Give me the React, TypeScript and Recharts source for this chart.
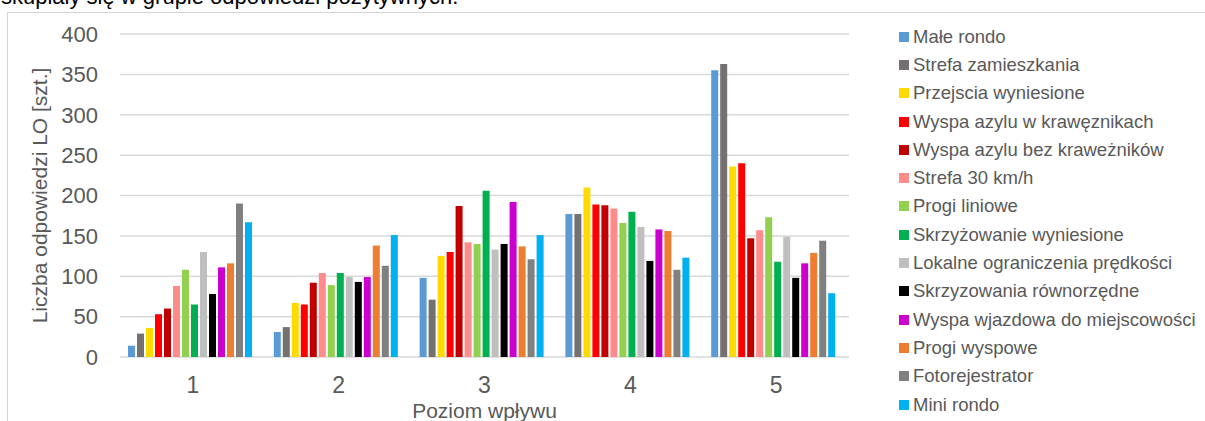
import React from 'react';
import { BarChart, Bar, XAxis, YAxis, CartesianGrid } from 'recharts';

const categories = ['1', '2', '3', '4', '5'];

const seriesNames = [
  'Małe rondo',
  'Strefa zamieszkania',
  'Przejscia wyniesione',
  'Wyspa azylu w krawęznikach',
  'Wyspa azylu bez kraweżników',
  'Strefa 30 km/h',
  'Progi liniowe',
  'Skrzyżowanie wyniesione',
  'Lokalne ograniczenia prędkości',
  'Skrzyzowania równorzędne',
  'Wyspa wjazdowa do miejscowości',
  'Progi wyspowe',
  'Fotorejestrator',
  'Mini rondo',
];

const seriesColors = [
  '#5B9BD5',
  '#767171',
  '#FFDA00',
  '#FF0000',
  '#C00000',
  '#FF8B8B',
  '#92D050',
  '#00B050',
  '#BFBFBF',
  '#000000',
  '#CC00CC',
  '#ED7D31',
  '#808080',
  '#00B0F0',
];

const maleRondo = [14, 31, 98, 177, 355];
const strefaZamieszkania = [29, 37, 71, 177, 363];
const przejsciaWyniesione = [36, 67, 125, 210, 236];
const wyspaWKrawez = [53, 65, 130, 189, 240];
const wyspaBezKrawez = [60, 92, 187, 188, 147];
const strefa30 = [88, 104, 142, 184, 157];
const progiLiniowe = [108, 89, 140, 166, 173];
const skrzyzowanieWyniesione = [65, 104, 206, 180, 118];
const lokalneOgraniczenia = [130, 99, 133, 161, 149];
const skrzyzowaniaRownorzedne = [78, 93, 140, 119, 98];
const wyspaWjazdowa = [111, 99, 192, 158, 116];
const progiWyspowe = [116, 138, 137, 156, 129];
const fotorejestrator = [190, 113, 121, 108, 144];
const miniRondo = [167, 151, 151, 123, 79];

const seriesValues = [
  maleRondo,
  strefaZamieszkania,
  przejsciaWyniesione,
  wyspaWKrawez,
  wyspaBezKrawez,
  strefa30,
  progiLiniowe,
  skrzyzowanieWyniesione,
  lokalneOgraniczenia,
  skrzyzowaniaRownorzedne,
  wyspaWjazdowa,
  progiWyspowe,
  fotorejestrator,
  miniRondo,
];

const yTicks = [0, 50, 100, 150, 200, 250, 300, 350, 400];
const boundaryTicks = [0, 1, 2, 3, 4, 5];

const data = categories.map((c, i) => {
  const row: Record<string, string | number> = { cat: c };
  seriesValues.forEach((vals, s) => {
    row['s' + s] = vals[i];
  });
  return row;
});

const FONT = '"Liberation Sans", Arial, sans-serif';
const TEXT = '#595959';
const GRID = '#D9D9D9';

const YLabel = (props: any) => {
  const vb = props.viewBox || { x: 0, y: 0, width: 0, height: 0 };
  const cx = vb.x + 46.5;
  const cy = vb.y + vb.height / 2;
  return (
    <text
      x={cx}
      y={cy}
      transform={`rotate(-90 ${cx} ${cy})`}
      textAnchor="middle"
      fontSize={21}
      fontFamily={FONT}
      fill={TEXT}
    >
      Liczba odpowiedzi LO [szt.]
    </text>
  );
};

const XLabel = (props: any) => {
  const vb = props.viewBox || { x: 0, y: 0, width: 0, height: 0 };
  return (
    <text
      x={vb.x + vb.width / 2}
      y={vb.y + 61}
      textAnchor="middle"
      fontSize={21}
      fontFamily={FONT}
      fill={TEXT}
    >
      Poziom wpływu
    </text>
  );
};

export default function App() {
  return (
    <div
      style={{
        position: 'absolute',
        left: 0,
        top: 0,
        width: 1205,
        height: 421,
        overflow: 'hidden',
        background: '#fff',
        fontFamily: FONT,
      }}
    >
      <svg width={1205} height={12} style={{ position: 'absolute', left: 0, top: 0 }}>
        <text x={1} y={4} fontSize={22} fontFamily={FONT} fill="#000">
          skupiały się w grupie odpowiedzi pozytywnych.
        </text>
      </svg>
      <div
        style={{
          position: 'absolute',
          left: 7,
          top: 12,
          width: 1210,
          height: 420,
          borderTop: '1px solid #D4D4D4',
          borderLeft: '1px solid #D4D4D4',
          boxSizing: 'border-box',
        }}
      />
      <div style={{ position: 'absolute', left: 0, top: 0 }}>
        <BarChart
          width={1205}
          height={421}
          data={data}
          margin={{ top: 34, right: 356, bottom: 0, left: 0 }}
          barCategoryGap={8}
          barGap={2}
        >
          <CartesianGrid vertical={false} stroke={GRID} strokeWidth={1.5} />
          <XAxis
            xAxisId="bounds"
            type="number"
            domain={[0, 5]}
            ticks={boundaryTicks}
            allowDataOverflow
            height={0}
            tick={false}
            tickSize={6}
            axisLine={{ stroke: GRID, strokeWidth: 1.5 }}
            tickLine={{ stroke: GRID, strokeWidth: 1.5 }}
          />
          <XAxis
            dataKey="cat"
            height={64}
            axisLine={false}
            tickLine={false}
            tickSize={0}
            tickMargin={20}
            tick={{ fontSize: 23, fill: TEXT, fontFamily: FONT }}
            label={<XLabel />}
          />
          <YAxis
            width={120}
            domain={[0, 400]}
            ticks={yTicks}
            axisLine={false}
            tickLine={false}
            tickSize={0}
            tickMargin={22}
            tick={{ fontSize: 22, fill: TEXT, fontFamily: FONT }}
            label={<YLabel />}
          />
          {seriesNames.map((name, s) => (
            <Bar
              key={name}
              dataKey={'s' + s}
              name={name}
              fill={seriesColors[s]}
              isAnimationActive={false}
            />
          ))}
        </BarChart>
      </div>
      <div style={{ position: 'absolute', left: 899, top: 22.5 }}>
        {seriesNames.map((name, s) => (
          <div
            key={name}
            style={{
              height: 28.3,
              display: 'flex',
              alignItems: 'center',
              whiteSpace: 'nowrap',
            }}
          >
            <span
              style={{
                display: 'inline-block',
                width: 10,
                height: 10,
                background: seriesColors[s],
                marginRight: 4,
              }}
            />
            <span style={{ fontSize: 18.5, color: TEXT, fontFamily: FONT }}>{name}</span>
          </div>
        ))}
      </div>
    </div>
  );
}
